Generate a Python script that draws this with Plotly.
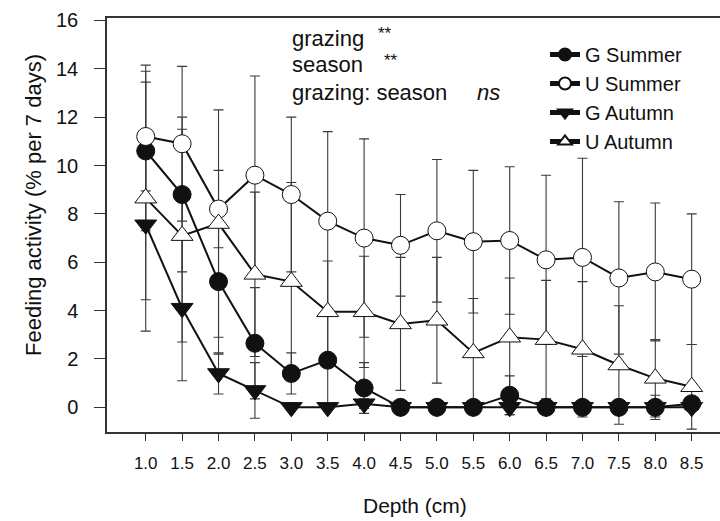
import plotly.graph_objects as go

depth = [1.0, 1.5, 2.0, 2.5, 3.0, 3.5, 4.0, 4.5, 5.0, 5.5, 6.0, 6.5, 7.0, 7.5, 8.0, 8.5]
tick_text = ["1.0", "1.5", "2.0", "2.5", "3.0", "3.5", "4.0", "4.5", "5.0", "5.5", "6.0", "6.5", "7.0", "7.5", "8.0", "8.5"]

g_summer = [10.6, 8.8, 5.2, 2.65, 1.4, 1.95, 0.8, 0, 0, 0, 0.5, 0, 0, 0, 0, 0.15]
g_summer_err = [3.3, 3.2, 3.0, 2.3, 0.85, 1.9, 1.05, 0, 0, 0, 0.8, 0, 0, 0, 0, 0]

u_summer = [11.2, 10.9, 8.2, 9.6, 8.8, 7.7, 7.0, 6.7, 7.3, 6.85, 6.9, 6.1, 6.2, 5.35, 5.6, 5.3]
u_summer_err = [2.25, 3.2, 1.6, 4.1, 3.2, 3.7, 4.1, 2.1, 2.95, 2.95, 3.05, 3.5, 4.1, 3.15, 2.85, 2.7]

g_autumn = [7.55, 4.1, 1.4, 0.7, 0, 0, 0.15, 0, 0, 0, 0, 0, 0, 0, 0, 0]
g_autumn_err = [3.1, 3.0, 0.85, 1.15, 0, 0, 0.2, 0, 0, 0, 0.3, 0, 0, 0, 0.5, 0]

u_autumn = [8.65, 7.1, 7.6, 5.5, 5.2, 3.95, 3.95, 3.45, 3.6, 2.25, 2.9, 2.8, 2.4, 1.75, 1.2, 0.85]
u_autumn_err = [5.5, 4.4, 4.7, 3.4, 4.1, 2.1, 2.3, 2.75, 2.6, 2.25, 2.45, 2.45, 2.8, 2.45, 1.6, 1.75]

series = [
    ("G Summer", g_summer, g_summer_err, "circle", "#111111"),
    ("U Summer", u_summer, u_summer_err, "circle", "white"),
    ("G Autumn", g_autumn, g_autumn_err, "triangle-down", "#111111"),
    ("U Autumn", u_autumn, u_autumn_err, "triangle-up", "white"),
]

fig = go.Figure()

# error bars first (behind everything)
for name, ys, es, sym, fill in series:
    fig.add_trace(go.Scatter(
        x=depth, y=ys, mode="markers", showlegend=False, hoverinfo="skip",
        marker=dict(size=2, opacity=0),
        error_y=dict(type="data", array=es, visible=True, color="#3a3a3a",
                     thickness=1.1, width=5),
    ))

for name, ys, es, sym, fill in series:
    fig.add_trace(go.Scatter(
        x=depth, y=ys, mode="lines+markers", name=name,
        line=dict(color="#111111", width=2),
        marker=dict(symbol=sym, size=18 if "circle" in sym else 19, color=fill,
                    line=dict(color="#111111", width=1)),
    ))

PL, PR, PT, PB = 107, 720, 18, 432
W, H = 720, 521

def px(x):
    return (x - PL) / (PR - PL)

def py(y):
    return (PB - y) / (PB - PT)

font = "Liberation Sans, Arial, sans-serif"
anns = [
    dict(text="grazing", x=px(290), y=py(38), xanchor="left", yanchor="middle", font=dict(size=22)),
    dict(text="**", x=px(376), y=py(33), xanchor="left", yanchor="middle", font=dict(size=17)),
    dict(text="season", x=px(290), y=py(65), xanchor="left", yanchor="middle", font=dict(size=22)),
    dict(text="**", x=px(382), y=py(60), xanchor="left", yanchor="middle", font=dict(size=17)),
    dict(text="grazing: season", x=px(290), y=py(92), xanchor="left", yanchor="middle", font=dict(size=22)),
    dict(text="<i>ns</i>", x=px(475), y=py(92), xanchor="left", yanchor="middle", font=dict(size=22)),
    dict(text="Feeding activity (% per 7 days)", x=px(33), y=py(205), xanchor="center", yanchor="middle",
         textangle=-90, font=dict(size=22)),
    dict(text="Depth (cm)", x=px(415), y=py(506), xanchor="center", yanchor="middle", font=dict(size=21)),
]
for a in anns:
    a.update(xref="paper", yref="paper", showarrow=False)
    a["font"].update(family=font, color="#111111")

fig.update_layout(
    width=W, height=H,
    margin=dict(l=PL, r=W - PR, t=PT, b=H - PB, pad=0),
    paper_bgcolor="white", plot_bgcolor="white",
    font=dict(family=font, color="#111111", size=18),
    showlegend=True,
    legend=dict(x=px(545), y=py(35), xanchor="left", yanchor="top",
                bgcolor="rgba(0,0,0,0)", font=dict(size=20, family=font),
                itemsizing="constant"),
    annotations=anns,
    xaxis=dict(range=[0.468, 8.889], tickvals=depth, ticktext=tick_text,
               showgrid=False, zeroline=False, showline=True, linecolor="#333333", linewidth=1.5,
               mirror=True, ticks="outside", ticklen=7, tickcolor="#333333", tickwidth=1,
               ticklabelstandoff=8, tickfont=dict(size=17)),
    yaxis=dict(range=[-1.02, 16.1], tickvals=list(range(0, 17, 2)),
               showgrid=False, zeroline=False, showline=True, linecolor="#333333", linewidth=1.5,
               ticks="outside", ticklen=11, tickcolor="#333333", tickwidth=1,
               ticklabelstandoff=12, tickfont=dict(size=20)),
)

fig.write_html("out.html")
